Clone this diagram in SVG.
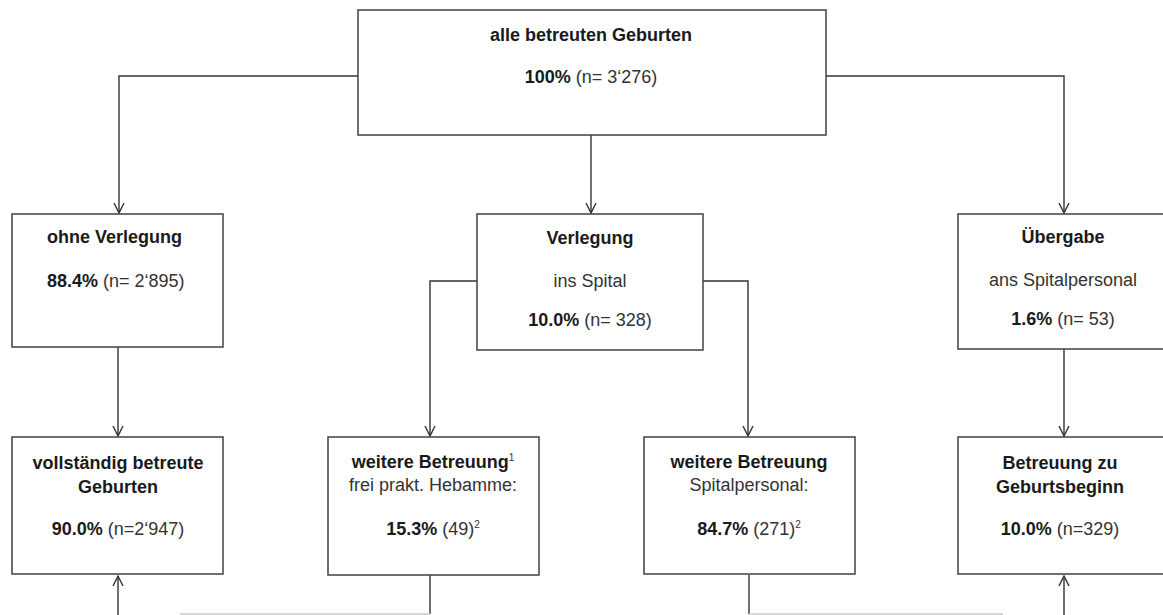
<svg xmlns="http://www.w3.org/2000/svg" width="1163" height="615" viewBox="0 0 1163 615">
<style>
.box{fill:#fff;stroke:#404040;stroke-width:1.5}
text{font-family:"Liberation Sans",Arial,sans-serif;font-size:18px;fill:#333;text-anchor:middle}
.b{font-weight:bold;fill:#1a1a1a}
.sup{font-size:10px}
.ln{fill:none;stroke:#333;stroke-width:1.4}
.lt{fill:none;stroke:#c8c8c8;stroke-width:1.4}
</style>
<defs>
<marker id="arr" markerUnits="userSpaceOnUse" markerWidth="14" markerHeight="14" refX="10" refY="6" orient="auto" viewBox="0 0 14 12">
<path d="M0,1 L10,6 L0,11" fill="none" stroke="#333" stroke-width="1.4"/>
</marker>
</defs>
<rect width="1163" height="615" fill="#fff"/>
<g id="connectors">
<path class="ln" d="M358,76 H119 V213" marker-end="url(#arr)"/>
<path class="ln" d="M826,76 H1064 V213" marker-end="url(#arr)"/>
<path class="ln" d="M591,135 V213" marker-end="url(#arr)"/>
<path class="ln" d="M118,347 V436" marker-end="url(#arr)"/>
<path class="ln" d="M477,281 H430 V436" marker-end="url(#arr)"/>
<path class="ln" d="M703,281 H748 V436" marker-end="url(#arr)"/>
<path class="ln" d="M1064,349 V436" marker-end="url(#arr)"/>
<path class="ln" d="M430,575 V614"/>
<path class="ln" d="M749,575 V614"/>
<path class="lt" d="M180,614 H430"/>
<path class="lt" d="M749,614 H1003"/>
<path class="ln" d="M118,615 V576" marker-end="url(#arr)"/>
<path class="ln" d="M1064,615 V576" marker-end="url(#arr)"/>
</g>
<g id="n-alle">
<rect class="box" x="358" y="10" width="468" height="125"/>
<text class="b" x="591" y="41">alle betreuten Geburten</text>
<text x="591" y="83"><tspan class="b">100%</tspan> (n= 3‘276)</text>
</g>
<g id="n-ohne">
<rect class="box" x="12" y="214" width="211" height="133"/>
<text class="b" x="47" y="243" style="text-anchor:start">ohne Verlegung</text>
<text x="47" y="287" style="text-anchor:start"><tspan class="b">88.4%</tspan> (n= 2‘895)</text>
</g>
<g id="n-verlegung">
<rect class="box" x="477" y="214" width="226" height="136"/>
<text class="b" x="590" y="244">Verlegung</text>
<text x="590" y="287">ins Spital</text>
<text x="590" y="326"><tspan class="b">10.0%</tspan> (n= 328)</text>
</g>
<g id="n-uebergabe">
<rect class="box" x="958" y="214" width="215" height="135"/>
<text class="b" x="1063" y="243">Übergabe</text>
<text x="1063" y="286">ans Spitalpersonal</text>
<text x="1063" y="325"><tspan class="b">1.6%</tspan> (n= 53)</text>
</g>
<g id="n-vollstaendig">
<rect class="box" x="12" y="437" width="211" height="137"/>
<text class="b" x="118" y="469">vollständig betreute</text>
<text class="b" x="118" y="493">Geburten</text>
<text x="118" y="535"><tspan class="b">90.0%</tspan> (n=2‘947)</text>
</g>
<g id="n-hebamme">
<rect class="box" x="328" y="437" width="211" height="138"/>
<text x="433" y="468"><tspan class="b">weitere Betreuung</tspan><tspan class="sup" dy="-7">1</tspan></text>
<text x="433" y="491">frei prakt. Hebamme:</text>
<text x="433" y="535"><tspan class="b">15.3%</tspan> (49)<tspan class="sup" dy="-7">2</tspan></text>
</g>
<g id="n-spitalpersonal">
<rect class="box" x="644" y="437" width="211" height="137"/>
<text class="b" x="749" y="468">weitere Betreuung</text>
<text x="749" y="491">Spitalpersonal:</text>
<text x="749" y="535"><tspan class="b">84.7%</tspan> (271)<tspan class="sup" dy="-7">2</tspan></text>
</g>
<g id="n-beginn">
<rect class="box" x="958" y="437" width="215" height="137"/>
<text class="b" x="1060" y="469">Betreuung zu</text>
<text class="b" x="1060" y="493">Geburtsbeginn</text>
<text x="1060" y="535"><tspan class="b">10.0%</tspan> (n=329)</text>
</g>
</svg>
